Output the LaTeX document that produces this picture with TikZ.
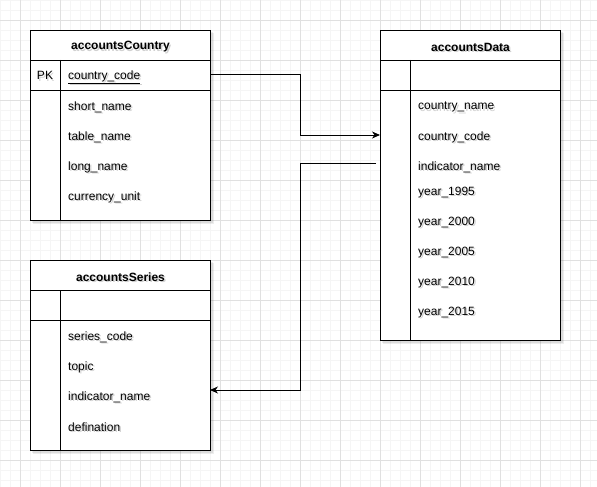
\documentclass[tikz,border=0pt]{standalone}
\usepackage{fontspec}
\setmainfont{Liberation Sans}
\usetikzlibrary{arrows.meta}
\newcommand\shtx[1]{\rlap{\raisebox{-1.5pt}[0pt][0pt]{\hspace{1.5pt}\textcolor{black!18}{#1}}}#1}
\begin{document}
\begin{tikzpicture}[x=1pt,y=-1pt,
  font=\fontsize{12}{14}\selectfont,
  tablebox/.style={draw=black,line width=1pt,fill=white,inner sep=0pt,anchor=north west},
  headbox/.style={draw=black,line width=1pt,fill=white,inner sep=0pt,anchor=north west,minimum width=180pt,minimum height=30pt},
  headtext/.style={anchor=center,inner sep=0pt,yshift=-1.5pt,font=\fontsize{12}{14}\selectfont\bfseries},
  rowtext/.style={anchor=west,text width=134pt,align=left,inner xsep=8pt,inner ysep=0pt,minimum height=30pt,yshift=-2pt},
  keytext/.style={anchor=center,inner sep=0pt,yshift=-0.5pt},
  conn/.style={draw=black,line width=1pt},
  tip/.style={-{Stealth[length=8pt,width=7pt,inset=2.5pt]}},
  sh/.style={fill=black,opacity=0.07,draw=none}
]
\useasboundingbox (0,0) rectangle (597,487);
\fill[white] (0,0) rectangle (597,487);
% grid
\foreach \i in {0,10,...,590} \draw[black!4,line width=0.8pt] (\i,0) -- (\i,487);
\foreach \i in {0,10,...,480} \draw[black!4,line width=0.8pt] (0,\i) -- (597,\i);
\foreach \i in {20,60,...,580} \draw[black!12,line width=0.8pt] (\i,0) -- (\i,487);
\foreach \i in {20,60,...,460} \draw[black!12,line width=0.8pt] (0,\i) -- (597,\i);

% shadows
\foreach \x/\y/\w/\h in {30/30/180/190, 380/30/180/310, 30/260/180/190}{
  \fill[sh] (\x+2,\y+2) rectangle (\x+\w+3,\y+\h+3);
  \fill[sh] (\x+3,\y+3) rectangle (\x+\w+4,\y+\h+4);
}

% ---------- accountsCountry ----------
\node[tablebox,minimum width=180pt,minimum height=190pt] (tC) at (30,30) {};
\node[headbox] (hC) at (30,30) {};
\node[headtext] (hCt) at (hC.center) {\shtx{accountsCountry}};
\draw[line width=1pt] (30,90) -- (210,90);
\draw[line width=1pt] (60,60) -- (60,220);
\node[keytext] (pkC) at (45,75) {\shtx{PK}};
\node[rowtext] (cCode) at (60,75) {\shtx{\underline{country\_code}}};
\node[rowtext] (cShort) at (60,105) {\shtx{short\_name}};
\node[rowtext] (cTable) at (60,135) {\shtx{table\_name}};
\node[rowtext] (cLong) at (60,165) {\shtx{long\_name}};
\node[rowtext] (cCur) at (60,195) {\shtx{currency\_unit}};
\coordinate (cCodeOut) at (210,75);

% ---------- accountsData ----------
\node[tablebox,minimum width=180pt,minimum height=310pt] (tD) at (380,30) {};
\node[headbox] (hD) at (380,30) {};
\node[headtext] (hDt) at (hD.center) {\shtx{accountsData}};
\draw[line width=1pt] (380,90) -- (560,90);
\draw[line width=1pt] (410,60) -- (410,340);
\node[rowtext] (dName) at (410,105) {\shtx{country\_name}};
\node[rowtext] (dCode) at (410,135) {\shtx{country\_code}};
\node[rowtext] (dInd) at (410,165) {\shtx{indicator\_name}};
\node[rowtext] (d1995) at (410,190.5) {\shtx{year\_1995}};
\node[rowtext] (d2000) at (410,220.5) {\shtx{year\_2000}};
\node[rowtext] (d2005) at (410,250.5) {\shtx{year\_2005}};
\node[rowtext] (d2010) at (410,280.5) {\shtx{year\_2010}};
\node[rowtext] (d2015) at (410,310.5) {\shtx{year\_2015}};
\coordinate (dCodeIn) at (380,135);
\coordinate (dIndOut) at (376,163.5);

% ---------- accountsSeries ----------
\node[tablebox,minimum width=180pt,minimum height=190pt] (tS) at (30,260) {};
\node[headbox] (hS) at (30,260) {};
\node[headtext] (hSt) at (hS.center) {\shtx{accountsSeries}};
\draw[line width=1pt] (30,320) -- (210,320);
\draw[line width=1pt] (60,290) -- (60,450);
\node[rowtext] (sCode) at (60,335) {\shtx{series\_code}};
\node[rowtext] (sTopic) at (60,365) {\shtx{topic}};
\node[rowtext] (sInd) at (60,395) {\shtx{indicator\_name}};
\node[rowtext] (sDef) at (60,425) {\shtx{defination}};
\coordinate (sIndIn) at (210,390);

% ---------- connectors ----------
\draw[conn,tip] (cCodeOut) -- (300,75) -- (300,135) -- (dCodeIn);
\draw[conn,tip] (dIndOut) -- (300,163.5) -- (300,390) -- (sIndIn);
\end{tikzpicture}
\end{document}
